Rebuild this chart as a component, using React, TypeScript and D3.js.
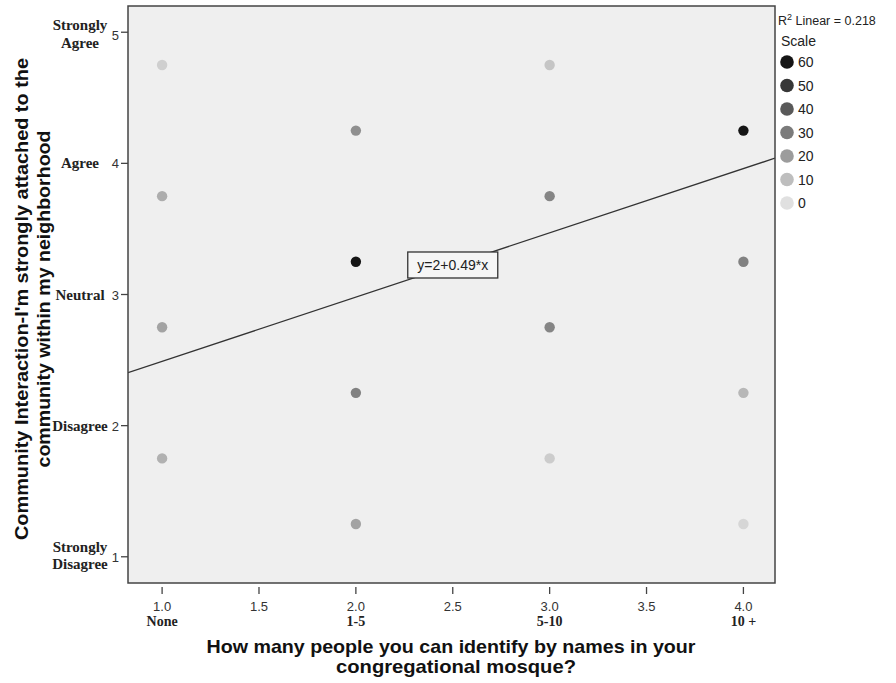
import React from "react";
import * as d3 from "d3";

const xTicks = [1.0, 1.5, 2.0, 2.5, 3.0, 3.5, 4.0];
const xCategoryValues = [1, 2, 3, 4];
const xCategoryLabels = ["None", "1-5", "5-10", "10 +"];
const yTicks = [1, 2, 3, 4, 5];
const yCategoryLabels = [["Strongly", "Disagree"], ["Disagree"], ["Neutral"], ["Agree"], ["Strongly", "Agree"]];

const pointX = [1, 1, 1, 1, 2, 2, 2, 2, 2, 3, 3, 3, 3, 4, 4, 4, 4, 4];
const pointY = [4.75, 3.75, 2.75, 1.75, 5.25, 4.25, 3.25, 2.25, 1.25, 4.75, 3.75, 2.75, 1.75, 5.25, 4.25, 3.25, 2.25, 1.25];
const pointCount = [5, 15, 18, 14, 40, 24, 60, 28, 18, 8, 27, 27, 6, 50, 60, 28, 12, 3];

const legendValues = [60, 50, 40, 30, 20, 10, 0];
const intercept = 2;
const slope = 0.49;
const rSquared = 0.218;

const W = 896, H = 683;
const L = 128, R = 775, T = 6, B = 583;

export default function App() {
  const x = d3.scaleLinear().domain([0.824, 4.163]).range([L, R]);
  const y = d3.scaleLinear().domain([0.8, 5.2]).range([B, T]);
  const color = d3.scaleLinear<string>().domain([0, 60]).range(["#e0e0e0", "#151515"]);
  const [x0, x1] = x.domain();
  const lx = 2.5;
  const boxW = 90, boxH = 26;
  const serif = "'Liberation Serif', 'Times New Roman', serif";
  const sans = "'Liberation Sans', Arial, sans-serif";
  const labelCx = 80;
  return (
    <svg width={W} height={H} style={{ position: "absolute", left: 0, top: 0, background: "#fff" }}>
      <defs>
        <clipPath id="plotClip">
          <rect x={L} y={T - 1} width={R - L} height={B - T + 1} />
        </clipPath>
      </defs>
      <rect x={L} y={T} width={R - L} height={B - T} fill="#efefef" />
      <g clipPath="url(#plotClip)">
        {pointX.map((px, i) => (
          <circle key={i} cx={x(px)} cy={y(pointY[i])} r={5.2} fill={color(pointCount[i])} />
        ))}
        <line x1={x(x0)} y1={y(intercept + slope * x0)} x2={x(x1)} y2={y(intercept + slope * x1)} stroke="#333" strokeWidth={1.3} />
      </g>
      <rect x={x(lx) - boxW / 2} y={y(intercept + slope * lx) - boxH / 2} width={boxW} height={boxH} fill="#f6f6f6" stroke="#333" strokeWidth={1.3} />
      <text x={x(lx)} y={y(intercept + slope * lx) + 5} textAnchor="middle" fontFamily={sans} fontSize={14} fill="#222">
        {`y=${intercept}+${slope}*x`}
      </text>
      <rect x={L} y={T} width={R - L} height={B - T} fill="none" stroke="#444" strokeWidth={1.5} />
      {/* x axis */}
      {xTicks.map((t) => (
        <g key={t}>
          <line x1={x(t)} x2={x(t)} y1={B + 4} y2={B + 11} stroke="#444" strokeWidth={1.3} />
          <text x={x(t)} y={B + 28} textAnchor="middle" fontFamily={sans} fontSize={13} fill="#333">{t.toFixed(1)}</text>
        </g>
      ))}
      {xCategoryValues.map((v, i) => (
        <text key={v} x={x(v)} y={B + 43} textAnchor="middle" fontFamily={serif} fontWeight="bold" fontSize={14} fill="#222">{xCategoryLabels[i]}</text>
      ))}
      <text x={451} y={653} textAnchor="middle" fontFamily={sans} fontWeight="bold" fontSize={19} fill="#111" textLength={489} lengthAdjust="spacingAndGlyphs">How many people you can identify by names in your</text>
      <text x={456} y={673} textAnchor="middle" fontFamily={sans} fontWeight="bold" fontSize={19} fill="#111" textLength={240} lengthAdjust="spacingAndGlyphs">congregational mosque?</text>
      {/* y axis */}
      {yTicks.map((t, i) => {
        const lines = yCategoryLabels[i];
        const yy = y(t);
        const top = t === 5;
        return (
          <g key={t}>
            <line x1={L - 7} x2={L} y1={yy} y2={yy} stroke="#444" strokeWidth={1.3} />
            <text x={119} y={yy + (top ? 8 : 5)} textAnchor="end" fontFamily={sans} fontSize={13} fill="#333">{t}</text>
            {lines.length === 1 ? (
              <text x={labelCx} y={yy + 5} textAnchor="middle" fontFamily={serif} fontWeight="bold" fontSize={15} fill="#222">{lines[0]}</text>
            ) : (
              <g>
                <text x={labelCx} y={yy + (top ? -2 : -5)} textAnchor="middle" fontFamily={serif} fontWeight="bold" fontSize={15} fill="#222">{lines[0]}</text>
                <text x={labelCx} y={yy + (top ? 16 : 12)} textAnchor="middle" fontFamily={serif} fontWeight="bold" fontSize={15} fill="#222">{lines[1]}</text>
              </g>
            )}
          </g>
        );
      })}
      <g transform={`translate(28, 299) rotate(-90)`}>
        <text x={0} y={0} textAnchor="middle" fontFamily={sans} fontWeight="bold" fontSize={19} fill="#111" textLength={482} lengthAdjust="spacingAndGlyphs">Community Interaction-I'm strongly attached to the</text>
        <text x={0} y={22} textAnchor="middle" fontFamily={sans} fontWeight="bold" fontSize={19} fill="#111" textLength={337} lengthAdjust="spacingAndGlyphs">community within my neighborhood</text>
      </g>
      {/* legend */}
      <text x={778} y={25} fontFamily={sans} fontSize={12.5} fill="#222">
        R<tspan dy={-5} fontSize={9}>2</tspan><tspan dy={5}>{` Linear = ${rSquared}`}</tspan>
      </text>
      <text x={781} y={46} fontFamily={sans} fontSize={14} fill="#222">Scale</text>
      {legendValues.map((v, i) => (
        <g key={v}>
          <circle cx={787} cy={62 + i * 23.5} r={6.8} fill={color(v)} />
          <text x={798} y={67 + i * 23.5} fontFamily={sans} fontSize={14} fill="#222">{v}</text>
        </g>
      ))}
    </svg>
  );
}
